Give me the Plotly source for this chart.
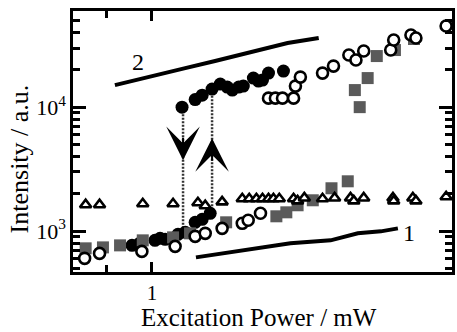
import numpy as np
import plotly.graph_objects as go

# ---- data ----
filled_x = [0.955, 0.972, 1.007, 1.019, 1.031, 1.062, 1.080, 1.105, 1.123, 1.144,
            1.072, 1.105, 1.123, 1.149, 1.171, 1.190, 1.204, 1.222, 1.235, 1.264,
            1.279, 1.291, 1.309, 1.355]
filled_y = [766, 796, 841, 873, 857, 940, 976, 1176, 1243, 1390,
            10000, 11500, 12500, 13980, 15350, 14520, 13730, 14520, 14790, 17160,
            16230, 16530, 18830, 19550]

open_x = [0.856, 0.886, 0.977, 1.055, 1.105, 1.131, 1.176, 1.232, 1.249, 1.285,
          1.309, 1.330, 1.352, 1.387, 1.393, 1.409, 1.483, 1.521, 1.576, 1.602,
          1.631, 1.736, 1.748, 1.819, 1.840, 1.973]
open_y = [602, 660, 685, 752, 906, 958, 1051, 1154, 1221, 1390,
          11820, 11820, 11820, 11820, 14790, 17480, 18830, 21450, 26330, 23990,
          28360, 28890, 34800, 38210, 36130, 45160]

square_x = [0.858, 0.893, 0.929, 0.979, 1.050, 1.092, 1.187, 1.333, 1.364, 1.400,
            1.450, 1.514, 1.572, 1.598, 1.616, 1.646, 1.681, 1.753, 1.832]
square_y = [725, 738, 766, 841, 889, 958, 1176, 1315, 1416, 1614,
            1771, 2214, 2520, 13730, 10000, 17160, 25840, 28890, 35460]

tri_x = [0.858, 0.886, 0.979, 1.050, 1.112, 1.131, 1.176, 1.232, 1.252, 1.273,
         1.291, 1.309, 1.324, 1.342, 1.387, 1.400, 1.422, 1.483, 1.525, 1.582,
         1.594, 1.631, 1.745, 1.748, 1.827, 1.840, 1.973]
tri_y = [1630, 1630, 1660, 1660, 1690, 1600, 1720, 1820, 1820, 1820,
         1820, 1820, 1820, 1820, 1820, 1750, 1850, 1820, 1850, 1850,
         1750, 1850, 1850, 1750, 1850, 1750, 1890]

line1_x = [1.107, 1.198, 1.285, 1.377, 1.511, 1.609, 1.697, 1.765]
line1_y = [613, 673, 725, 796, 841, 958, 994, 1051]

line2_x = [0.918, 0.995, 1.080, 1.157, 1.264, 1.368, 1.470]
line2_y = [15070, 17480, 20670, 23550, 28360, 32920, 36130]

down_x = 1.0745
down_y = [10000, 1051]
down_tip = 3729
up_x = 1.149
up_y = [1390, 13000]
up_tip = 5616

label_text = ["2", "1"]
label_x = [0.968, 1.810]
label_y = [23110, 958]

x_range = [0.8333, 2.0]
y_range = [467, 59700]
x_major = [1, 2]
x_minor = [0.9]
y_major = [1000, 10000]
y_major_text = ["10<sup>3</sup>", "10<sup>4</sup>"]
y_minor = [500, 600, 700, 800, 900, 2000, 3000, 4000, 5000, 6000, 7000, 8000, 9000,
           20000, 30000, 40000, 50000]

FONT = "Liberation Serif"
GREY = "#5a5a5a"

fig = go.Figure()

fig.add_trace(go.Scatter(x=line1_x, y=line1_y, mode="lines",
                         line=dict(color="black", width=4)))
fig.add_trace(go.Scatter(x=line2_x, y=line2_y, mode="lines",
                         line=dict(color="black", width=4)))
fig.add_trace(go.Scatter(x=[down_x, down_x], y=down_y, mode="lines",
                         line=dict(color="#333", width=2.5, dash="2px,1.5px")))
fig.add_trace(go.Scatter(x=[up_x, up_x], y=up_y, mode="lines",
                         line=dict(color="#333", width=2.5, dash="2px,1.5px")))

fig.add_trace(go.Scatter(x=filled_x, y=filled_y, mode="markers",
                         marker=dict(symbol="circle", size=13, color="black",
                                     line=dict(width=0))))
fig.add_trace(go.Scatter(x=square_x, y=square_y, mode="markers",
                         marker=dict(symbol="square", size=12, color=GREY,
                                     line=dict(width=0))))
fig.add_trace(go.Scatter(x=open_x, y=open_y, mode="markers",
                         marker=dict(symbol="circle", size=11, color="white",
                                     line=dict(width=2.6, color="black"))))
fig.add_trace(go.Scatter(x=tri_x, y=tri_y, mode="markers",
                         marker=dict(symbol="triangle-up", size=10, color="white",
                                     line=dict(width=2.6, color="black"))))

annotations = []
annotations.append(dict(x=np.log10(down_x), y=np.log10(down_tip), xref="x", yref="y",
                        text="", showarrow=True, arrowhead=3, arrowsize=2.8,
                        arrowwidth=2, arrowcolor="black", ax=0, ay=-24))
annotations.append(dict(x=np.log10(up_x), y=np.log10(up_tip), xref="x", yref="y",
                        text="", showarrow=True, arrowhead=3, arrowsize=2.8,
                        arrowwidth=2, arrowcolor="black", ax=0, ay=24))
for t, lx, ly in zip(label_text, label_x, label_y):
    annotations.append(dict(x=np.log10(lx), y=np.log10(ly), xref="x", yref="y",
                            text=t, showarrow=False,
                            font=dict(family=FONT, size=24, color="black")))
# axis titles as annotations (positioned as in the reference)
annotations.append(dict(x=-0.14, y=0.435, xref="paper", yref="paper",
                        text="Intensity / a.u.", textangle=-90, showarrow=False,
                        xanchor="center", yanchor="middle",
                        font=dict(family=FONT, size=26, color="black")))
annotations.append(dict(x=0.491, y=-0.2299, xref="paper", yref="paper",
                        text="Excitation Power / mW", showarrow=False,
                        xanchor="center", yanchor="bottom", borderpad=0,
                        font=dict(family=FONT, size=25, color="black")))

axis_common = dict(showline=True, linecolor="black", linewidth=2.5, mirror="ticks",
                   ticks="inside", tickcolor="black", tickwidth=2.5,
                   showgrid=False, zeroline=False, automargin=False)

fig.update_layout(
    width=457, height=332,
    margin=dict(l=73, r=5, t=11, b=60),
    paper_bgcolor="white", plot_bgcolor="white",
    showlegend=False,
    annotations=annotations,
    xaxis=dict(type="log", range=[np.log10(x_range[0]), np.log10(x_range[1])],
               tickmode="array", tickvals=x_major, ticktext=[str(v) for v in x_major],
               ticklen=10,
               tickfont=dict(family=FONT, size=21, color="black"),
               minor=dict(tickmode="array", tickvals=x_minor, ticks="inside",
                          ticklen=7, tickwidth=2.5, tickcolor="black"),
               **axis_common),
    yaxis=dict(type="log", range=[np.log10(y_range[0]), np.log10(y_range[1])],
               tickmode="array", tickvals=y_major, ticktext=y_major_text,
               ticklen=13,
               tickfont=dict(family=FONT, size=22, color="black"),
               minor=dict(tickmode="array", tickvals=y_minor, ticks="inside",
                          ticklen=7, tickwidth=2.5, tickcolor="black"),
               **axis_common),
)

fig.write_html("out.html", config={"displayModeBar": False},
               post_script="document.body.style.margin='0';document.body.style.overflow='hidden';")
